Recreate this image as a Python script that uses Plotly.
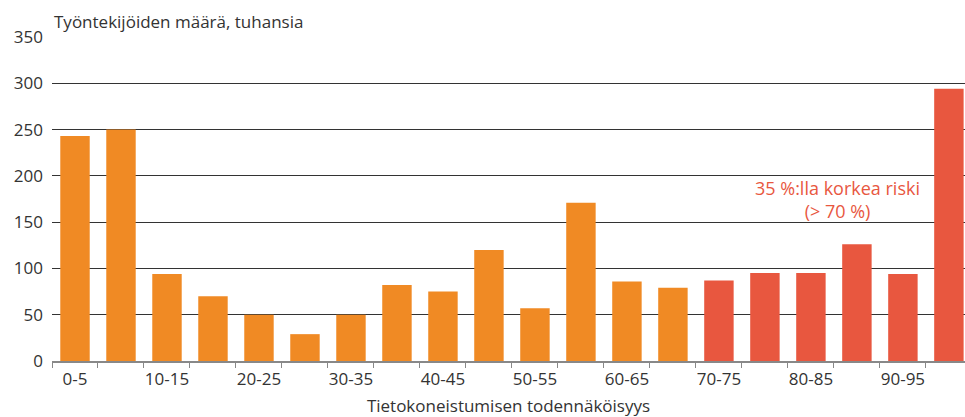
import plotly.graph_objects as go

# Categories (automation probability, %) and worker counts (thousands)
categories = ["0-5", "5-10", "10-15", "15-20", "20-25", "25-30", "30-35", "35-40",
              "40-45", "45-50", "50-55", "55-60", "60-65", "65-70", "70-75", "75-80",
              "80-85", "85-90", "90-95", "95-100"]
workers = [243, 250, 94, 70, 50, 29, 50, 82, 75, 120, 57, 171, 86, 79,
           87, 95, 95, 126, 94, 294]
high_risk_from = 14  # index of "70-75"

orange = "#F08A24"
red = "#E8573F"
colors = [orange if i < high_risk_from else red for i in range(len(categories))]
xpos = list(range(len(categories)))

fig = go.Figure()
fig.add_trace(go.Bar(x=xpos, y=workers, marker=dict(color=colors, line=dict(width=0)),
                     showlegend=False))

fig.update_layout(
    width=965, height=417,
    margin=dict(l=52, r=0, t=37, b=56),
    plot_bgcolor="white", paper_bgcolor="white",
    font=dict(family="Open Sans", size=17, color="#333333"),
    bargap=0.36,
)
# last bar is cut at the right edge in the original
fig.update_xaxes(
    range=[-0.5, len(categories) - 0.65], automargin=False,
    tickvals=xpos[::2], ticktext=categories[::2], ticks="",
    showgrid=False, showline=True, linecolor="#888888", linewidth=1.5,
    minor=dict(tick0=-0.5, dtick=1, ticks="outside", ticklen=5, tickcolor="#888888",
               showgrid=False),
    tickfont=dict(size=17), ticklabelstandoff=2,
    title=dict(text="Tietokoneistumisen todennäköisyys", font=dict(size=17), standoff=11),
)
fig.update_yaxes(
    range=[0, 350], dtick=50, showgrid=True, gridcolor="#333333", gridwidth=1,
    zeroline=False, ticks="", tickfont=dict(size=17), ticklabelstandoff=8,
    automargin=False,
)
fig.add_annotation(xref="paper", yref="paper", x=0, y=1.0, xanchor="left", yanchor="bottom",
                   text="Työntekijöiden määrä, tuhansia", showarrow=False,
                   font=dict(size=17, color="#333333"), yshift=2)
fig.add_annotation(x=16.57, y=174, text="35 %:lla korkea riski<br>(> 70 %)",
                   showarrow=False, font=dict(size=18, color=red))

# drop the default page margin so the figure fills the window exactly
fig.write_html("out.html", config={"displayModeBar": False},
               post_script="document.body.style.margin='0';document.body.style.overflow='hidden';")
